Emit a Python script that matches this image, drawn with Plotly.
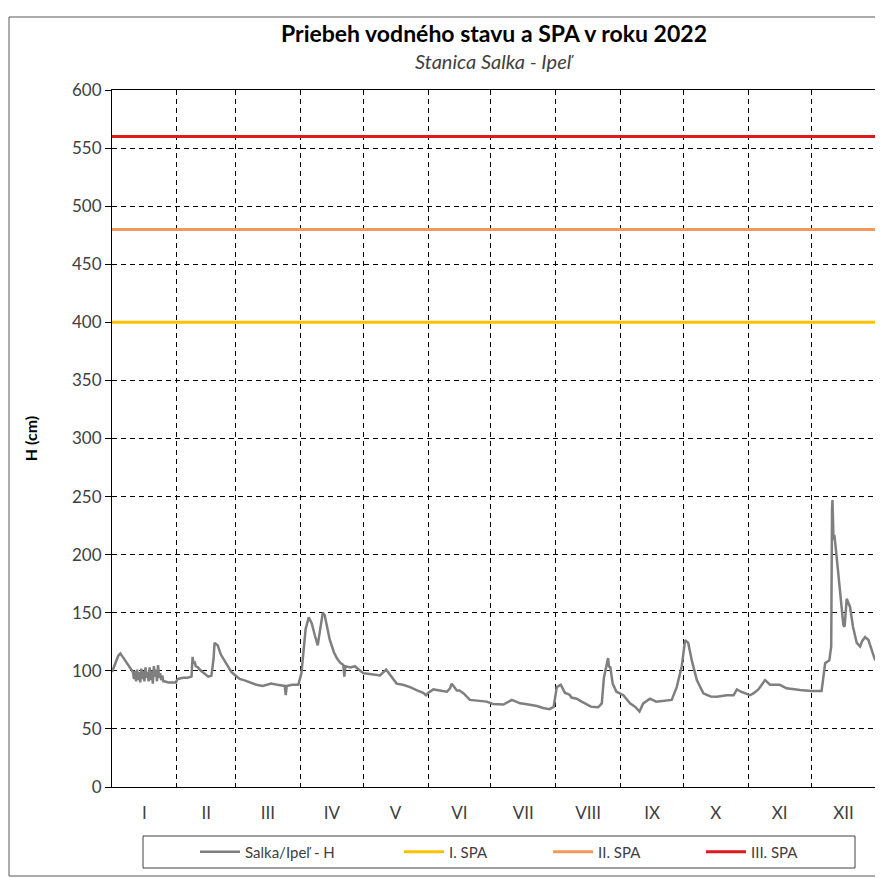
import pandas as pd
import plotly.graph_objects as go

# Vodny stav Salka / Ipel 2022 (den v roku od 1.1., hodnota v cm) - odcitane z grafu
dni = [0, 1.5, 3, 4, 5.5, 7, 8.5, 10,
       10.5, 11, 11.5, 12, 12.5, 13, 13.5, 14, 14.5, 15, 15.5, 16, 16.5, 17, 17.5, 18,
       18.5, 19, 19.5, 20, 20.5, 21, 21.5, 22, 22.5, 23, 23.5, 24, 24.5,
       25, 27, 29, 30.5, 31, 31.5, 34, 36, 38, 38.5, 39, 39.5, 40, 41, 42.5, 44, 46, 47.5,
       48.5, 49, 50, 50.5, 52, 54, 55.5, 57, 59, 61, 63, 66, 69, 72, 74, 76, 79, 82.5, 83,
       83.5, 86, 89, 90.5, 91.5, 92.5, 94, 95.4, 97, 98.3, 99.4, 100.7, 101.6, 102.5, 104,
       106, 107.4, 109, 110.5, 111, 111.5, 114, 116, 118, 120, 124, 128, 131, 133, 136, 139,
       142.4, 146, 148.7, 150, 151, 153.5, 157, 160, 161.5, 162.3, 163.5, 164.7, 166, 168,
       171, 175, 179, 182, 187, 191, 195, 199, 203, 206, 209, 211, 212.5, 214.4, 216.4, 218,
       218.8, 219.5, 222, 224.4, 227, 229, 232.3, 234, 235, 236.3, 237, 237.5, 238, 239.2,
       241, 244.3, 247.5, 250, 252, 253.8, 257, 260, 263.4, 267.4, 269.8, 272.2, 273.8,
       275.3, 277, 279.4, 282.5, 286, 289, 293.7, 297, 298.5, 300.5, 302.5, 304.8, 306.4,
       308.8, 312, 314.4, 319, 322.3, 328.7, 334, 339, 340.7, 342.7, 343.6, 344, 344.2,
       344.7, 345.1, 346.2, 347.8, 349.4, 350, 351, 352.6, 354, 355.8, 357.4, 358.5, 359.8,
       361.4, 363, 364.6]
hladina = [99, 106, 113, 115, 111, 106, 103, 99,
           93, 100, 91, 101, 92, 99, 90, 102, 93, 100, 91, 103, 94, 99, 91, 103,
           92, 100, 89, 104, 95, 101, 91, 105, 94, 98, 92, 96, 91,
           91, 90, 90, 90, 92, 93, 94, 94, 95, 112, 106, 108, 104, 103, 100, 98, 95, 96,
           110, 124, 123, 122, 114, 108, 103, 99, 96, 93, 92, 90, 88, 87, 88, 89, 88, 87, 79,
           87, 88, 88, 98, 120, 136, 146, 141, 130, 122, 135, 150, 148, 140, 127,
           116, 111, 107, 105, 95, 104, 103, 104, 101, 98, 97, 96, 101, 96, 89, 88,
           86, 83, 81, 79, 81, 84, 83, 82, 85, 89, 86, 83, 83, 80.6,
           75, 74, 73.5, 71.5, 71, 75, 72, 71, 69.7, 68, 67, 69, 86, 88, 81, 80,
           79, 77, 76, 73.5, 71, 69, 68.6, 72, 94, 104, 111, 103, 104, 89,
           82, 79, 72, 69, 65, 72, 76, 73.5, 74, 75, 86, 104, 126.5,
           124, 109, 92, 80.6, 78, 77.7, 79, 79, 84, 82, 80.6, 79, 80.6,
           84, 92, 88, 88, 85, 83.5, 82.6, 82.6, 106.5, 109, 121, 240, 247,
           213, 217, 198, 170, 139.5, 138, 162, 155, 138, 124, 121, 126, 129,
           126.5, 117, 109]

# Stupne povodnovej aktivity
spa_nazvy = ["I. SPA", "II. SPA", "III. SPA"]
spa_hodnoty = [400, 480, 560]
spa_farby = ["#ffc000", "#f0995a", "#e0191e"]

mesiace = ["I", "II", "III", "IV", "V", "VI", "VII", "VIII", "IX", "X", "XI", "XII"]

zaciatok = pd.Timestamp("2022-01-01")
cas = zaciatok + pd.to_timedelta(dni, unit="D")
hranice = pd.date_range("2022-01-01", periods=13, freq="MS")
stredy = [hranice[i] + (hranice[i + 1] - hranice[i]) / 2 for i in range(12)]

PISMO = "Lato"
SEDA = "#404040"
PW, PH = 764, 697  # rozmer plochy grafu v px (pre prepocet ramov)

fig = go.Figure()
fig.add_trace(go.Scatter(x=cas, y=hladina, mode="lines", name="Salka/Ipeľ - H",
                         line=dict(color="#7f7f7f", width=2.5), legend="legend"))
for i, (nazov, h, farba) in enumerate(zip(spa_nazvy, spa_hodnoty, spa_farby)):
    fig.add_trace(go.Scatter(x=[hranice[0], hranice[-1]], y=[h, h], mode="lines",
                             name=nazov, line=dict(color=farba, width=3),
                             legend=f"legend{i + 2}"))

# kazda polozka legendy samostatne, aby sedeli rozostupy
legendy = {}
for i, zac in enumerate([200, 404, 553, 706]):
    kluc = "legend" if i == 0 else f"legend{i + 1}"
    legendy[kluc] = dict(orientation="h", x=(zac - 5 - 112) / PW, xanchor="left",
                         y=-(852 - 787) / PH, yanchor="middle",
                         borderwidth=0, bgcolor="rgba(0,0,0,0)",
                         font=dict(size=15, color=SEDA), itemwidth=40)

fig.update_layout(
    width=875, height=870,
    margin=dict(l=104, r=7, t=82, b=91),
    paper_bgcolor="white", plot_bgcolor="white",
    font=dict(family=PISMO, size=17, color=SEDA),
    showlegend=True,
    **legendy,
)

fig.update_xaxes(
    range=[hranice[0], hranice[-1]],
    tickmode="array", tickvals=stredy, ticktext=mesiace,
    showgrid=False, ticks="", ticklabelstandoff=11,
    showline=True, linecolor="black", linewidth=1, mirror=True,
    minor=dict(tickmode="array", tickvals=list(hranice[1:-1]), showgrid=True,
               gridcolor="black", gridwidth=1, griddash="5px,4px", ticks=""),
    zeroline=False,
)
fig.update_yaxes(
    range=[0, 600], dtick=50,
    showgrid=True, gridcolor="black", gridwidth=1, griddash="5px,4px",
    ticks="outside", ticklen=6, tickcolor="black",
    showline=True, linecolor="black", linewidth=1, mirror=True,
    zeroline=False,
    title=dict(text="<b>H (cm)</b>", font=dict(size=16, color="black"), standoff=30),
)

# Nadpis a podnadpis
fig.add_annotation(text="<b>Priebeh vodného stavu a SPA v roku 2022</b>",
                   xref="paper", yref="paper", x=0.5, y=1.0 + (787 - 33 - PH) / PH,
                   showarrow=False, font=dict(size=23, color="black", family=PISMO),
                   yanchor="middle")
fig.add_annotation(text="<i>Stanica Salka - Ipeľ</i>",
                   xref="paper", yref="paper", x=0.5, y=1.0 + (787 - 61 - PH) / PH,
                   showarrow=False, font=dict(size=20, color=SEDA, family=PISMO),
                   yanchor="middle")

# Ram legendy
fig.add_shape(type="rect", xref="paper", yref="paper",
              x0=(143 - 112) / PW, x1=(855 - 112) / PW,
              y0=-(868 - 787) / PH, y1=-(836 - 787) / PH,
              line=dict(color=SEDA, width=1))

# Ram okolo celeho grafu
fig.add_shape(type="rect", xref="paper", yref="paper",
              x0=(9 - 112) / PW, x1=(880 - 112) / PW,
              y0=-(876 - 787) / PH, y1=(787 - 17) / PH,
              line=dict(color="#595959", width=1))

fig.write_html("out.html")
